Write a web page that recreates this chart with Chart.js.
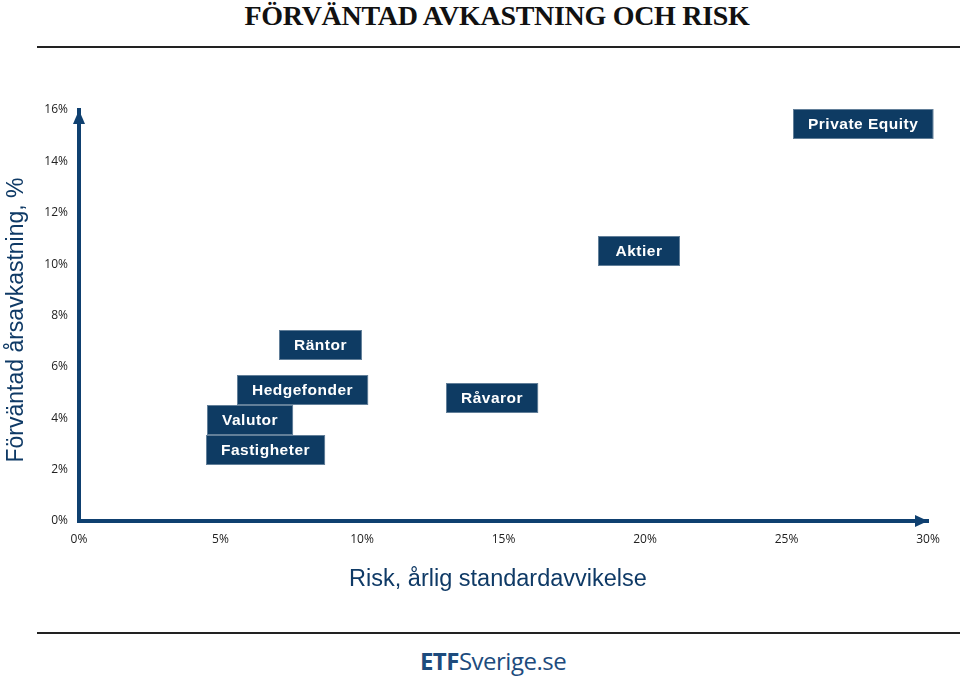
<!DOCTYPE html>
<html>
<head>
<meta charset="utf-8">
<script src="https://cdn.jsdelivr.net/npm/chart.js@4.4.1/dist/chart.umd.min.js"></script>
<style>
  body { margin: 0; background: #fff; width: 960px; height: 676px; overflow: hidden; position: relative; }
  #title { position: absolute; left: 0; width: 994px; top: 0px; text-align: center;
           font-family: "Liberation Serif", serif; font-weight: bold; font-size: 28px; color: #111; letter-spacing: -0.3px; }
  .rule { position: absolute; left: 37px; right: 0; height: 2px; background: #222; }
  #logo { position: absolute; left: 0; width: 986px; top: 644px; text-align: center;
          font-family: "Open Sans", sans-serif; font-size: 24px; color: #1d4b7d; letter-spacing: -0.5px; }
  #logo b { font-weight: 700; }
  #wrap { position: absolute; left: 0; top: 0; width: 960px; height: 676px; }
</style>
</head>
<body>
<div id="title">FÖRVÄNTAD AVKASTNING OCH RISK</div>
<div class="rule" style="top:46px"></div>
<div class="rule" style="top:632px"></div>
<div id="logo"><b>ETF</b>Sverige.se</div>
<div id="wrap"><canvas id="myChart" width="960" height="676"></canvas></div>
<script>
// Data: risk (x) and expected return (y), in percent
const assetNames = ['Private Equity', 'Aktier', 'Räntor', 'Hedgefonder', 'Råvaror', 'Valutor', 'Fastigheter'];
const riskValues = [27.7, 19.8, 8.55, 7.9, 14.6, 6.05, 6.6];
const returnValues = [15.45, 10.5, 6.85, 5.1, 4.8, 3.95, 2.75];
const xTicks = [0, 5, 10, 15, 20, 25, 30];
const yTicks = [0, 2, 4, 6, 8, 10, 12, 14, 16];

const navy = '#0e3b63';
const axisColor = '#0f4070';

// Arrow heads at the end of both axes, plus the axis titles
const arrowPlugin = {
    id: 'arrows',
    afterDraw(chart) {
        const { ctx, chartArea } = chart;
        ctx.save();
        ctx.fillStyle = axisColor;
        // y axis arrow
        ctx.beginPath();
        ctx.moveTo(chartArea.left, chartArea.top);
        ctx.lineTo(chartArea.left - 6, chartArea.top + 14);
        ctx.lineTo(chartArea.left + 6, chartArea.top + 14);
        ctx.fill();
        // x axis arrow
        ctx.beginPath();
        ctx.moveTo(chartArea.right, chartArea.bottom);
        ctx.lineTo(chartArea.right - 13, chartArea.bottom - 6);
        ctx.lineTo(chartArea.right - 13, chartArea.bottom + 6);
        ctx.fill();

        ctx.fillStyle = '#0f3a66';
        ctx.textAlign = 'center';
        ctx.textBaseline = 'middle';
        ctx.font = '23.5px "Liberation Sans", Arial, sans-serif';
        ctx.fillText('Risk, årlig standardavvikelse', 498, 580);
        ctx.font = '23px "Liberation Sans", Arial, sans-serif';
        ctx.translate(17, 320);
        ctx.rotate(-Math.PI / 2);
        ctx.fillText('Förväntad årsavkastning, %', 0, 0);
        ctx.restore();
    }
};

// Dark boxes with the asset names, centred on each point
const boxLabels = {
    id: 'boxLabels',
    afterDatasetsDraw(chart) {
        const { ctx } = chart;
        const meta = chart.getDatasetMeta(0);
        ctx.save();
        ctx.font = 'bold 15.5px "Liberation Sans", Arial, sans-serif';
        ctx.letterSpacing = '0.5px';
        ctx.textBaseline = 'middle';
        ctx.textAlign = 'left';
        meta.data.forEach((pt, i) => {
            const text = assetNames[i];
            const tw = ctx.measureText(text).width;
            const w = Math.max(82, tw + 30);
            const h = 30;
            const x0 = Math.round(pt.x - w / 2);
            const y0 = Math.round(pt.y - h / 2);
            ctx.fillStyle = navy;
            ctx.fillRect(x0, y0, w, h);
            ctx.strokeStyle = 'rgba(255,255,255,0.35)';
            ctx.lineWidth = 1;
            ctx.strokeRect(x0 + 0.5, y0 + 0.5, w - 1, h - 1);
            ctx.fillStyle = '#fff';
            ctx.fillText(text, x0 + (w - tw) / 2, y0 + h / 2 + 1);
        });
        ctx.restore();
    }
};

const ctx = document.getElementById('myChart').getContext('2d');
const myChart = new Chart(ctx, {
    type: 'scatter',
    data: {
        datasets: [{
            label: 'Tillgångar',
            data: riskValues.map((r, i) => ({ x: r, y: returnValues[i] })),
            pointRadius: 0,
            pointHoverRadius: 0
        }]
    },
    options: {
        responsive: false,
        animation: false,
        layout: { padding: { top: 110, right: 32, bottom: 125, left: 0 } },
        plugins: {
            legend: { display: false },
            tooltip: { enabled: false }
        },
        scales: {
            x: {
                type: 'linear',
                min: 0,
                max: 30,
                afterBuildTicks: scale => { scale.ticks = xTicks.map(v => ({ value: v })); },
                afterFit: scale => { scale.height = 30; },
                grid: { display: false, drawTicks: false },
                border: { display: true, color: axisColor, width: 4 },
                ticks: {
                    padding: 11,
                    color: '#222',
                    font: { family: '"Open Sans", sans-serif', size: 12 },
                    callback: v => v + '%'
                }
            },
            y: {
                type: 'linear',
                min: 0,
                max: 16,
                afterBuildTicks: scale => { scale.ticks = yTicks.map(v => ({ value: v })); },
                afterFit: scale => { scale.width = 79; },
                grid: { display: false, drawTicks: false },
                border: { display: true, color: axisColor, width: 4 },
                ticks: {
                    padding: 11,
                    color: '#222',
                    font: { family: '"Open Sans", sans-serif', size: 12 },
                    callback: v => v + '%'
                }
            }
        }
    },
    plugins: [boxLabels, arrowPlugin]
});
</script>
</body>
</html>
